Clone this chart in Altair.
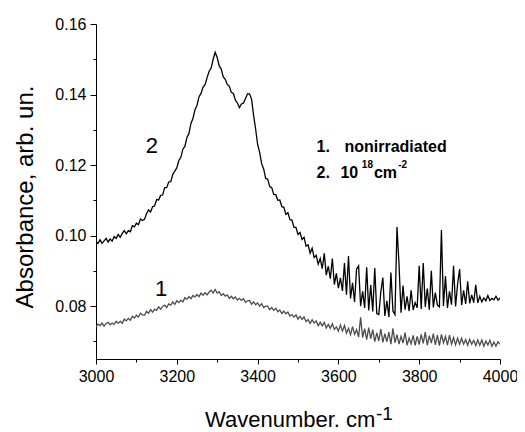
import altair as alt
import pandas as pd

wavenumber = list(range(3000, 4001, 5))

# curve 2: irradiated 10^18 cm^-2 (black)
absorb_irr = [
    0.0984, 0.0978, 0.0988, 0.0978, 0.0985, 0.0992, 0.0982, 0.0990, 0.0984, 0.0997,
    0.0992, 0.1003, 0.0995, 0.1006, 0.1014, 0.1005, 0.1014, 0.1011, 0.1028, 0.1025,
    0.1035, 0.1031, 0.1047, 0.1043, 0.1046, 0.1062, 0.1073, 0.1067, 0.1082, 0.1084,
    0.1102, 0.1101, 0.1114, 0.1115, 0.1136, 0.1136, 0.1152, 0.1153, 0.1173, 0.1183,
    0.1192, 0.1213, 0.1222, 0.1245, 0.1253, 0.1278, 0.1289, 0.1318, 0.1332, 0.1357,
    0.1369, 0.1394, 0.1403, 0.1421, 0.1428, 0.1448, 0.1466, 0.1475, 0.1500, 0.1520,
    0.1505, 0.1481, 0.1472, 0.1450, 0.1443, 0.1428, 0.1424, 0.1406, 0.1403, 0.1384,
    0.1376, 0.1363, 0.1373, 0.1376, 0.1389, 0.1402, 0.1402, 0.1387, 0.1342, 0.1303,
    0.1259, 0.1236, 0.1204, 0.1189, 0.1162, 0.1160, 0.1139, 0.1136, 0.1117, 0.1116,
    0.1100, 0.1101, 0.1082, 0.1080, 0.1060, 0.1065, 0.1045, 0.1044, 0.1023, 0.1023,
    0.1003, 0.1009, 0.0989, 0.0995, 0.0970, 0.0974, 0.0950, 0.0964, 0.0938, 0.0944,
    0.0919, 0.0935, 0.0906, 0.0950, 0.0888, 0.0913, 0.0878, 0.0935, 0.0861, 0.0893,
    0.0851, 0.0880, 0.0843, 0.0922, 0.0832, 0.0942, 0.0822, 0.0866, 0.0812, 0.0905,
    0.0914, 0.0800, 0.0842, 0.0795, 0.0910, 0.0788, 0.0860, 0.0785, 0.0908, 0.0779,
    0.0776, 0.0840, 0.0881, 0.0772, 0.0815, 0.0769, 0.0895, 0.0786, 0.0776, 0.1024,
    0.0920, 0.0781, 0.0858, 0.0790, 0.0828, 0.0786, 0.0845, 0.0789, 0.0810, 0.0795,
    0.0914, 0.0792, 0.0922, 0.0798, 0.0850, 0.0790, 0.0900, 0.0796, 0.0838, 0.0803,
    0.0798, 0.1016, 0.0800, 0.0885, 0.0795, 0.0842, 0.0804, 0.0914, 0.0799, 0.0862,
    0.0905, 0.0803, 0.0845, 0.0806, 0.0870, 0.0808, 0.0832, 0.0810, 0.0860, 0.0809,
    0.0828, 0.0812, 0.0823, 0.0815, 0.0830, 0.0816, 0.0822, 0.0818, 0.0828, 0.0817,
    0.0823,
]

# curve 1: nonirradiated (dark gray)
absorb_non = [
    0.0741, 0.0749, 0.0745, 0.0752, 0.0743, 0.0751, 0.0754, 0.0747, 0.0752, 0.0748,
    0.0757, 0.0751, 0.0757, 0.0751, 0.0763, 0.0758, 0.0765, 0.0760, 0.0771, 0.0766,
    0.0774, 0.0769, 0.0780, 0.0775, 0.0774, 0.0785, 0.0780, 0.0790, 0.0783, 0.0791,
    0.0788, 0.0798, 0.0791, 0.0799, 0.0803, 0.0796, 0.0806, 0.0803, 0.0812, 0.0805,
    0.0815, 0.0810, 0.0817, 0.0812, 0.0824, 0.0819, 0.0827, 0.0821, 0.0830, 0.0826,
    0.0833, 0.0827, 0.0837, 0.0831, 0.0838, 0.0832, 0.0840, 0.0845, 0.0837, 0.0847,
    0.0837, 0.0841, 0.0830, 0.0835, 0.0828, 0.0832, 0.0822, 0.0828, 0.0821, 0.0826,
    0.0817, 0.0822, 0.0816, 0.0821, 0.0811, 0.0815, 0.0816, 0.0805, 0.0812, 0.0804,
    0.0809, 0.0800, 0.0807, 0.0796, 0.0800, 0.0800, 0.0790, 0.0796, 0.0788, 0.0794,
    0.0784, 0.0789, 0.0779, 0.0786, 0.0778, 0.0783, 0.0772, 0.0776, 0.0769, 0.0775,
    0.0763, 0.0771, 0.0762, 0.0769, 0.0756, 0.0762, 0.0751, 0.0761, 0.0752, 0.0758,
    0.0744, 0.0754, 0.0744, 0.0754, 0.0738, 0.0748, 0.0737, 0.0750, 0.0734, 0.0741,
    0.0729, 0.0746, 0.0729, 0.0745, 0.0723, 0.0737, 0.0719, 0.0742, 0.0720, 0.0733,
    0.0712, 0.0768, 0.0711, 0.0736, 0.0705, 0.0739, 0.0708, 0.0733, 0.0699, 0.0724,
    0.0701, 0.0735, 0.0697, 0.0722, 0.0699, 0.0726, 0.0692, 0.0737, 0.0696, 0.0719,
    0.0692, 0.0714, 0.0695, 0.0725, 0.0689, 0.0709, 0.0693, 0.0717, 0.0689, 0.0714,
    0.0691, 0.0720, 0.0694, 0.0726, 0.0689, 0.0716, 0.0695, 0.0722, 0.0690, 0.0718,
    0.0688, 0.0720, 0.0696, 0.0714, 0.0689, 0.0718, 0.0692, 0.0711, 0.0690, 0.0709,
    0.0692, 0.0709, 0.0692, 0.0705, 0.0689, 0.0706, 0.0692, 0.0703, 0.0688, 0.0704,
    0.0689, 0.0704, 0.0686, 0.0701, 0.0690, 0.0703, 0.0686, 0.0698, 0.0686, 0.0699,
    0.0692,
]

series_names = ["1", "2"]
series_colors = ["#4d4d4d", "#000000"]

x_major = [3000, 3200, 3400, 3600, 3800, 4000]
x_minor = [3100, 3300, 3500, 3700, 3900]
y_major = [0.08, 0.10, 0.12, 0.14, 0.16]
y_minor = [0.07, 0.09, 0.11, 0.13, 0.15]

# curve labels (data coordinates)
curve_label_text = ["2", "1"]
curve_label_x = [3138, 3161]
curve_label_y = [0.1233, 0.0828]

# legend-like text block (data coordinates)
legend_text = ["1.", "nonirradiated", "2.", "10", "18", "cm", "-2"]
legend_x = [3546, 3615, 3546, 3605, 3658, 3688, 3748]
legend_y = [0.1237, 0.1237, 0.1164, 0.1164, 0.1191, 0.1164, 0.1191]
legend_size = [16, 16, 16, 16, 10, 16, 10]

FONT = "Liberation Sans"

df = pd.DataFrame({
    "wavenumber": wavenumber + wavenumber,
    "absorbance": absorb_non + absorb_irr,
    "series": [series_names[0]] * len(wavenumber) + [series_names[1]] * len(wavenumber),
})

xs = alt.Scale(domain=[3000, 4000], nice=False, zero=False)
ys = alt.Scale(domain=[0.065, 0.16], nice=False, zero=False)

x_axis_major = alt.Axis(
    values=x_major, format="d", title=None, orient="bottom",
    tickSize=5, labelPadding=4, labelOverlap=False, labelFlush=False,
)
y_axis_major = alt.Axis(
    values=y_major, format=".2f", title=None, orient="left",
    tickSize=6, labelPadding=4, labelOverlap=False, labelFlush=False,
)
x_axis_minor = alt.Axis(
    values=x_minor, labels=False, title=None, orient="bottom",
    tickSize=3, domain=False,
)
y_axis_minor = alt.Axis(
    values=y_minor, labels=False, title=None, orient="left",
    tickSize=3, domain=False,
)

lines = alt.Chart(df).mark_line(strokeWidth=1.3, clip=True).encode(
    x=alt.X("wavenumber:Q", scale=xs, axis=x_axis_major),
    y=alt.Y("absorbance:Q", scale=ys, axis=y_axis_major),
    color=alt.Color("series:N", scale=alt.Scale(domain=series_names, range=series_colors), legend=None),
)

curve_df = pd.DataFrame({"wavenumber": curve_label_x, "absorbance": curve_label_y, "label": curve_label_text})
curve_labels = alt.Chart(curve_df).mark_text(
    font=FONT, fontSize=22, align="center", baseline="alphabetic", color="black"
).encode(
    x=alt.X("wavenumber:Q", scale=xs, axis=x_axis_minor),
    y=alt.Y("absorbance:Q", scale=ys, axis=y_axis_minor),
    text="label:N",
)

legend_df = pd.DataFrame({"wavenumber": legend_x, "absorbance": legend_y, "label": legend_text, "size": legend_size})
legend_block = alt.Chart(legend_df).mark_text(
    font=FONT, fontWeight="bold", align="left", baseline="alphabetic", color="black"
).encode(
    x=alt.X("wavenumber:Q", scale=xs, axis=None),
    y=alt.Y("absorbance:Q", scale=ys, axis=None),
    text="label:N",
    size=alt.Size("size:Q", scale=None, legend=None),
)

x_title = alt.Chart(pd.DataFrame({"t": ["Wavenumber. cm"]})).mark_text(
    font=FONT, fontSize=22, align="left", baseline="alphabetic", color="black"
).encode(x=alt.value(109), y=alt.value(403), text="t:N")

x_title_sup = alt.Chart(pd.DataFrame({"t": ["-1"]})).mark_text(
    font=FONT, fontSize=19, align="left", baseline="alphabetic", color="black"
).encode(x=alt.value(280), y=alt.value(396), text="t:N")

y_title = alt.Chart(pd.DataFrame({"t": ["Absorbance, arb. un."]})).mark_text(
    font=FONT, fontSize=24, align="center", baseline="alphabetic", angle=270, color="black"
).encode(x=alt.value(-63), y=alt.value(173), text="t:N")

chart = alt.layer(
    lines, curve_labels, legend_block, x_title, x_title_sup, y_title
).resolve_scale(
    x="shared", y="shared"
).resolve_axis(
    x="independent", y="independent"
).properties(
    width=404,
    height=335,
    autosize=alt.AutoSizeParams(type="none"),
    padding={"left": 88, "top": 16, "right": 17, "bottom": 78},
    background="white",
).configure_view(stroke=None).configure_axis(
    grid=False,
    domainColor="black", domainWidth=1,
    tickColor="black", tickWidth=1,
    labelColor="black", labelFont=FONT, labelFontSize=16,
)

chart.save("out.html", embed_options={"renderer": "svg", "actions": False})
